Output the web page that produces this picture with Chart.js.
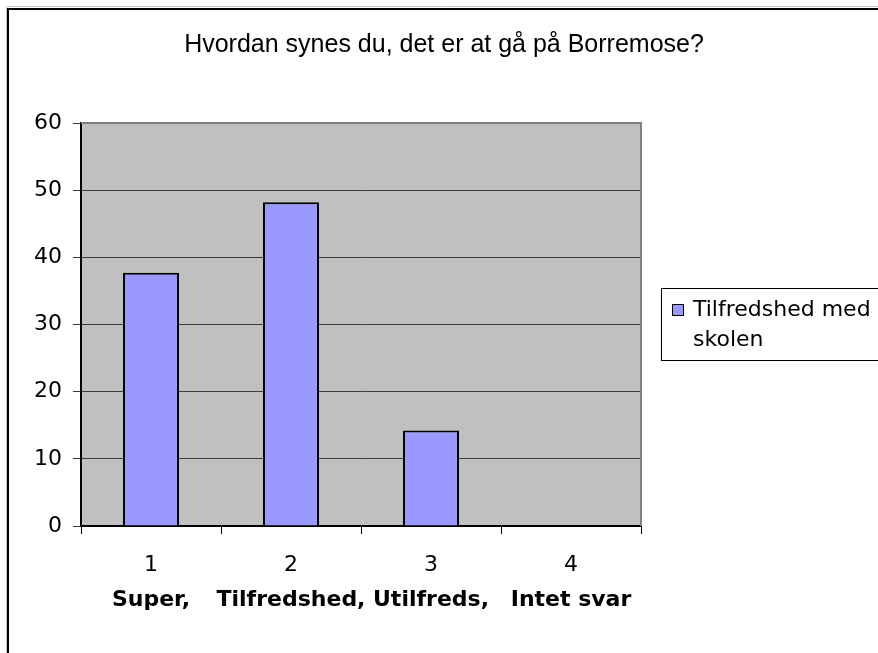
<!DOCTYPE html>
<html>
<head>
<meta charset="utf-8">
<script src="https://cdn.jsdelivr.net/npm/chart.js@4.4.1/dist/chart.umd.min.js"></script>
<style>
html, body { margin: 0; padding: 0; background: #fff; }
canvas { display: block; }
</style>
</head>
<body>
<canvas id="chartCanvas" width="878" height="653"></canvas>
<script>
const titleText = "Hvordan synes du, det er at gå på Borremose?";
const categories = ["1", "2", "3", "4"];
const categoryNames = ["Super,", "Tilfredshed,", "Utilfreds,", "Intet svar"];
const seriesLabel = "Tilfredshed med skolen";
const seriesValues = [37.7, 48.2, 14.2, 0];
const yTicks = [0, 10, 20, 30, 40, 50, 60];

const titleFont = "'Liberation Sans', Arial, sans-serif";
const textFont = "'DejaVu Sans', Verdana, sans-serif";
const barColor = '#9999ff';

// gray plot area, its border, outer frame and the legend box
const excelLook = {
    id: 'excelLook',
    beforeDraw(chart) {
        const { ctx, chartArea: a } = chart;
        ctx.save();
        ctx.fillStyle = '#c0c0c0';
        ctx.fillRect(a.left, a.top, a.right - a.left, a.bottom - a.top);
        ctx.restore();
    },
    afterDatasetsDraw(chart) {
        const { ctx, chartArea: a } = chart;
        ctx.save();
        ctx.strokeStyle = '#808080';
        ctx.lineWidth = 2;
        ctx.beginPath();
        ctx.moveTo(a.left, a.top);
        ctx.lineTo(a.right, a.top);
        ctx.lineTo(a.right, a.bottom);
        ctx.stroke();
        ctx.restore();
    },
    afterDraw(chart) {
        const ctx = chart.ctx;
        ctx.save();
        // outer frame
        ctx.strokeStyle = '#c8c8c8';
        ctx.lineWidth = 1;
        ctx.beginPath();
        ctx.moveTo(6.5, 660);
        ctx.lineTo(6.5, 6.5);
        ctx.lineTo(880, 6.5);
        ctx.stroke();
        ctx.strokeStyle = '#000';
        ctx.lineWidth = 2;
        ctx.beginPath();
        ctx.moveTo(8, 660);
        ctx.lineTo(8, 9);
        ctx.lineTo(880, 9);
        ctx.stroke();

        // legend
        ctx.strokeStyle = '#000';
        ctx.lineWidth = 1;
        ctx.strokeRect(661.5, 288.5, 260, 72);
        ctx.fillStyle = barColor;
        ctx.fillRect(672, 304, 12, 12);
        ctx.strokeRect(672.5, 304.5, 11, 11);

        ctx.font = '22px ' + textFont;
        ctx.fillStyle = '#000';
        ctx.textBaseline = 'middle';
        const words = chart.data.datasets[0].label.split(' ');
        const lines = [];
        let cur = '';
        words.forEach(w => {
            const t = cur ? cur + ' ' + w : w;
            if (ctx.measureText(t).width > 185 && cur) {
                lines.push(cur);
                cur = w;
            } else {
                cur = t;
            }
        });
        lines.push(cur);
        lines.forEach((l, i) => ctx.fillText(l, 693, 310 + i * 30));
        ctx.restore();
    }
};

const ctx = document.getElementById('chartCanvas').getContext('2d');

new Chart(ctx, {
    type: 'bar',
    data: {
        labels: categories,
        datasets: [{
            label: seriesLabel,
            data: seriesValues,
            backgroundColor: barColor,
            borderColor: '#000',
            borderWidth: 2,
            barPercentage: 0.4,
            categoryPercentage: 1.0,
            xAxisID: 'x',
            yAxisID: 'y'
        }]
    },
    options: {
        responsive: false,
        animation: false,
        devicePixelRatio: 1,
        layout: { padding: { left: 10, right: 0, top: 0, bottom: 0 } },
        plugins: {
            legend: { display: false },
            tooltip: { enabled: false },
            title: {
                display: true,
                text: titleText,
                color: '#000',
                font: { family: titleFont, size: 25, weight: 'normal' },
                padding: { top: 30, bottom: 63 }
            }
        },
        scales: {
            x: {
                type: 'category',
                offset: true,
                grid: { display: true, offset: true, drawOnChartArea: false, tickLength: 8, color: '#000', lineWidth: 1 },
                border: { color: '#000', width: 2 },
                ticks: { color: '#000', font: { family: textFont, size: 22 }, padding: 18, maxRotation: 0, autoSkip: false },
                afterFit(scale) { scale.height = 50; }
            },
            x2: {
                type: 'category',
                labels: categoryNames,
                position: 'bottom',
                offset: true,
                grid: { display: false, drawTicks: false, tickLength: 0 },
                border: { display: false },
                ticks: { color: '#000', font: { family: textFont, size: 22, weight: 'bold' }, padding: 11, maxRotation: 0, autoSkip: false },
                afterFit(scale) { scale.height = 77; }
            },
            y: {
                min: yTicks[0],
                max: yTicks[yTicks.length - 1],
                ticks: {
                    stepSize: yTicks[1] - yTicks[0],
                    color: '#000',
                    font: { family: textFont, size: 22 },
                    padding: 11
                },
                grid: { color: '#3c3c3c', lineWidth: 1, tickLength: 8 },
                border: { color: '#000', width: 2 },
                afterFit(scale) { scale.width = 71; }
            },
            // empty right axis keeps room for the legend
            yR: {
                type: 'linear',
                position: 'right',
                grid: { display: false },
                border: { display: false },
                ticks: { display: false },
                afterFit(scale) { scale.width = 237; }
            }
        }
    },
    plugins: [excelLook]
});
</script>
</body>
</html>
